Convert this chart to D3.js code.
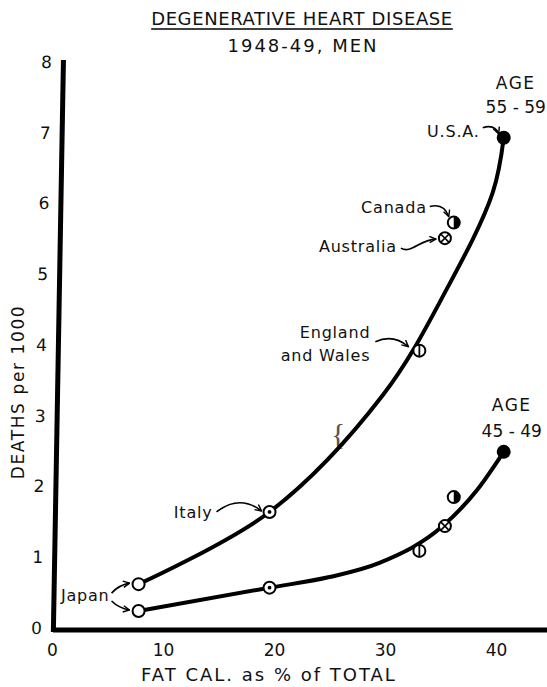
<!DOCTYPE html>
<html lang="en">
<head>
<meta charset="UTF-8">
<title>Degenerative heart disease</title>
<style>
    body { margin: 0; background: #fff; }
    svg text { font-family: "DejaVu Sans", sans-serif; fill: #111; }
    .axis text { font-size: 17px; }
    .curve { fill: none; stroke: #000; stroke-width: 4; stroke-linecap: round; }
    .lbl { font-size: 16px; letter-spacing: 0.8px; }
    .arrow { fill: none; stroke: #000; stroke-width: 1.6; }
    .mk { fill: #fff; stroke: #000; stroke-width: 2; }
</style>
</head>
<body>
<svg width="547" height="687"></svg>
<script src="https://d3js.org/d3.v7.min.js"></script>
<script>

var countries = ["Japan", "Italy", "England and Wales", "Australia", "Canada", "U.S.A."];
var fatPct = [7.8, 19.6, 33.1, 35.4, 36.2, 40.7];
var deaths5559 = [0.62, 1.64, 3.92, 5.51, 5.73, 6.93];
var deaths4549 = [0.24, 0.57, 1.09, 1.44, 1.85, 2.49];
var markerType = ["open", "dot", "bar", "cross", "half", "solid"];

// the hand-drawn fitted curves
var fit5559X = [7.8, 19.6, 29.8, 35.6, 39.7, 40.7];
var fit5559Y = [0.62, 1.64, 3.29, 4.80, 6.15, 6.93];
var fit4549X = [7.8, 19.6, 25.0, 29.5, 35.2, 38.3, 40.7];
var fit4549Y = [0.24, 0.57, 0.72, 0.92, 1.44, 1.95, 2.49];

var xTicks = [0, 10, 20, 30, 40];
var yTicks = [0, 1, 2, 3, 4, 5, 6, 7, 8];

var svg = d3.select("svg");

var x = d3.scaleLinear().domain([0, 44.6]).range([52, 547]);
var y = d3.scaleLinear().domain([0, 8]).range([628, 62]);

var axisX = 64.5, axisY = 630;
var tilt = -1.01; // the scanned page is a little skewed

svg.append("defs").append("marker")
    .attr("id", "ah")
    .attr("viewBox", "0 0 10 10")
    .attr("refX", 9).attr("refY", 5)
    .attr("markerWidth", 8).attr("markerHeight", 8)
    .attr("markerUnits", "userSpaceOnUse")
    .attr("orient", "auto")
    .append("path")
    .attr("d", "M1,1 L9,5 L1,9")
    .attr("fill", "none").attr("stroke", "#000").attr("stroke-width", 1.8);

// titles
var title = svg.append("text")
    .attr("x", 302).attr("y", 25)
    .attr("text-anchor", "middle")
    .style("font-size", "18px").style("letter-spacing", "0.6px")
    .text("DEGENERATIVE HEART DISEASE");
var tb = title.node().getBBox();
svg.append("line")
    .attr("x1", tb.x).attr("x2", tb.x + tb.width)
    .attr("y1", 29).attr("y2", 29)
    .attr("stroke", "#000").attr("stroke-width", 1.6);

svg.append("text")
    .attr("x", 303).attr("y", 52)
    .attr("text-anchor", "middle")
    .style("font-size", "18px").style("letter-spacing", "2px")
    .text("1948-49, MEN");

// axes
var yAxisG = svg.append("g").attr("transform", "skewX(" + tilt + ")");
yAxisG.append("g").attr("class", "axis")
    .attr("transform", "translate(" + axisX + ",0)")
    .call(d3.axisLeft(y).tickValues(yTicks).tickSize(0).tickPadding(11.5).tickFormat(d3.format("d")))
    .call(function(g) { g.select(".domain").remove(); });
yAxisG.append("line")
    .attr("x1", axisX).attr("x2", axisX)
    .attr("y1", y(8) - 2).attr("y2", axisY + 2)
    .attr("stroke", "#000").attr("stroke-width", 5);

svg.append("g").attr("class", "axis")
    .attr("transform", "translate(0," + axisY + ")")
    .call(d3.axisBottom(x).tickValues(xTicks).tickSize(0).tickPadding(14).tickFormat(d3.format("d")))
    .call(function(g) { g.select(".domain").remove(); });
svg.append("line")
    .attr("x1", 53).attr("x2", x.range()[1])
    .attr("y1", axisY).attr("y2", axisY)
    .attr("stroke", "#000").attr("stroke-width", 5);

svg.append("text")
    .attr("transform", "translate(24,392) rotate(-90)")
    .attr("text-anchor", "middle")
    .style("font-size", "17px").style("letter-spacing", "1.6px")
    .text("DEATHS per 1000");

svg.append("text")
    .attr("x", 269).attr("y", 681)
    .attr("text-anchor", "middle")
    .style("font-size", "18px").style("letter-spacing", "2px")
    .text("FAT CAL. as % of TOTAL");

// stray pencil mark in the original
svg.append("text")
    .attr("x", 331).attr("y", 444)
    .style("font-family", "Liberation Serif").style("font-size", "30px")
    .style("fill", "#555")
    .text("{");

// curves
function fitLine(curve) {
    return d3.line()
        .x(function(d) { return x(d[0]); })
        .y(function(d) { return y(d[1]); })
        .curve(curve);
}

svg.append("path").attr("class", "curve")
    .attr("d", fitLine(d3.curveCatmullRom.alpha(0.5))(d3.zip(fit5559X, fit5559Y)));
svg.append("path").attr("class", "curve")
    .attr("d", fitLine(d3.curveMonotoneX)(d3.zip(fit4549X, fit4549Y)));

// markers
function drawMarker(type, cx, cy) {
    var g = svg.append("g").attr("transform", "translate(" + cx + "," + cy + ")");
    var r = 6;
    if (type == "solid") {
        g.append("circle").attr("r", 7).attr("fill", "#000");
        return;
    }
    g.append("circle").attr("class", "mk").attr("r", r);
    if (type == "dot") {
        g.append("circle").attr("r", 1.9).attr("fill", "#000");
    } else if (type == "bar") {
        g.append("line").attr("y1", -r).attr("y2", r).attr("stroke", "#000").attr("stroke-width", 1.8);
    } else if (type == "cross") {
        var k = r * 0.7;
        g.append("path").attr("d", "M" + -k + "," + -k + "L" + k + "," + k + "M" + k + "," + -k + "L" + -k + "," + k)
            .attr("stroke", "#000").attr("stroke-width", 1.6);
    } else if (type == "half") {
        g.append("path").attr("d", "M0," + -r + "A" + r + "," + r + " 0 0 1 0," + r + "Z").attr("fill", "#000");
    }
}

countries.forEach(function(c, i) {
    drawMarker(markerType[i], x(fatPct[i]), y(deaths5559[i]));
    drawMarker(markerType[i], x(fatPct[i]), y(deaths4549[i]));
});

// country labels, placed relative to the 55-59 marker
var labelOffset = {
    "Japan":             { dx: -29, dy: [17] },
    "Italy":             { dx: -57, dy: [6] },
    "England and Wales": { dx: -49, dy: [-13, 10], lines: ["England", "and Wales"] },
    "Australia":         { dx: -48, dy: [14] },
    "Canada":            { dx: -27, dy: [-10] },
    "U.S.A.":            { dx: -24, dy: [-1] }
};
var arrowPath = {
    "Japan":             "M-27,9 Q-20,1 -9,-1",
    "Italy":             "M-53,0 Q-30,-18 -8,-1",
    "England and Wales": "M-44,-9 Q-26,-17 -11,-4",
    "Australia":         "M-44,10 C-34,16 -26,2 -9,1",
    "Canada":            "M-24,-16 Q-10,-20 -5,-6",
    "U.S.A.":            "M-21,-10 Q-9,-14 -5,-4"
};

countries.forEach(function(c, i) {
    var px = x(fatPct[i]), py = y(deaths5559[i]);
    var o = labelOffset[c];
    var lines = o.lines || [c];
    lines.forEach(function(t, j) {
        svg.append("text").attr("class", "lbl")
            .attr("x", px + o.dx).attr("y", py + o.dy[j])
            .attr("text-anchor", "end")
            .text(t);
    });
    svg.append("path").attr("class", "arrow")
        .attr("transform", "translate(" + px + "," + py + ")")
        .attr("d", arrowPath[c])
        .attr("marker-end", "url(#ah)");
});

// second Japan arrow to the 45-49 marker
svg.append("path").attr("class", "arrow")
    .attr("transform", "translate(" + x(fatPct[0]) + "," + y(deaths4549[0]) + ")")
    .attr("d", "M-27,-10 Q-20,-3 -9,-1")
    .attr("marker-end", "url(#ah)");

// age group labels
function ageLabel(age, px, py, dx, dy1, dy2) {
    svg.append("text").attr("x", px + dx).attr("y", py + dy1)
        .attr("text-anchor", "middle")
        .style("font-size", "17px").style("letter-spacing", "1.5px")
        .text("AGE");
    svg.append("text").attr("x", px + dx).attr("y", py + dy2)
        .attr("text-anchor", "middle")
        .style("font-size", "17px")
        .text(age);
}
ageLabel("55 - 59", x(fatPct[5]), y(deaths5559[5]), 12, -49, -25);
ageLabel("45 - 49", x(fatPct[5]), y(deaths4549[5]), 8, -41, -15);

</script>
</body>
</html>
